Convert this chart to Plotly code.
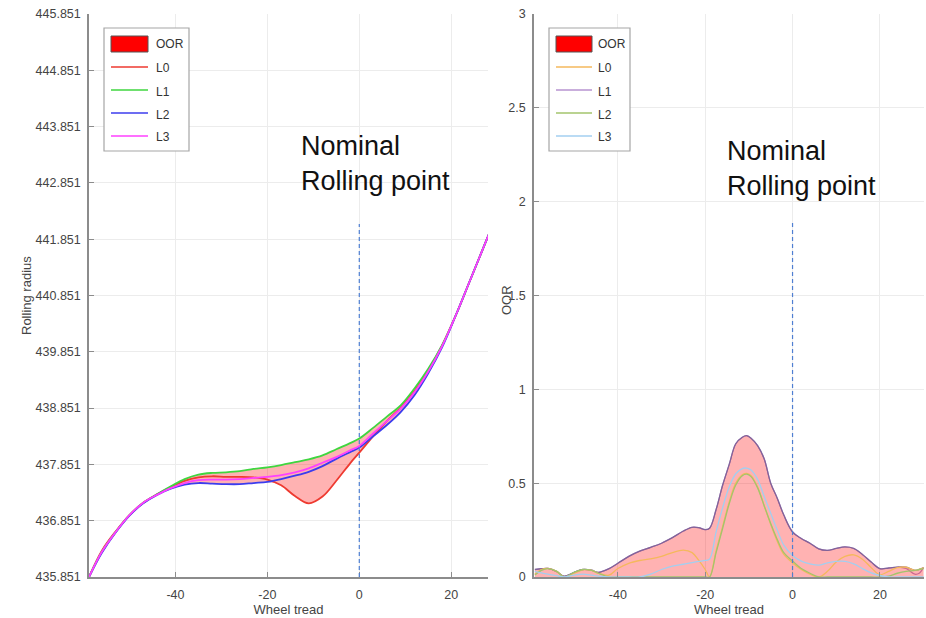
import numpy as np
import plotly.graph_objects as go

W, H = 926, 618
FONT = "Liberation Sans, Arial, sans-serif"

# ---------------- data: left panel (rolling radius) ----------------
tread_left = [-58.8, -56, -53, -50, -47, -44, -41, -38, -35, -32, -29, -26, -23, -20, -17,
              -14, -11, -8, -5, -2, 0, 3, 6, 9, 12, 15, 18, 21, 24, 27, 30]
rr_L0 = [435.851, 436.32, 436.66, 436.95, 437.17, 437.32, 437.45, 437.56, 437.62, 437.64, 437.63,
         437.63, 437.62, 437.58, 437.48, 437.29, 437.16, 437.28, 437.56, 437.87, 438.06, 438.35,
         438.62, 438.86, 439.15, 439.52, 439.96, 440.50, 441.10, 441.70, 442.30]
rr_L1 = [435.851, 436.30, 436.65, 436.95, 437.17, 437.32, 437.46, 437.59, 437.67, 437.70, 437.71,
         437.73, 437.77, 437.80, 437.84, 437.89, 437.94, 438.01, 438.12, 438.23, 438.31, 438.50,
         438.70, 438.90, 439.20, 439.55, 439.97, 440.50, 441.10, 441.70, 442.30]
rr_L2 = [435.851, 436.28, 436.64, 436.94, 437.16, 437.31, 437.42, 437.49, 437.52, 437.51, 437.50,
         437.50, 437.52, 437.54, 437.59, 437.65, 437.72, 437.82, 437.95, 438.07, 438.15, 438.35,
         438.55, 438.78, 439.08, 439.47, 439.93, 440.50, 441.10, 441.70, 442.30]
rr_L3 = [435.851, 436.30, 436.65, 436.95, 437.17, 437.31, 437.43, 437.52, 437.57, 437.58, 437.58,
         437.59, 437.61, 437.63, 437.66, 437.71, 437.78, 437.88, 437.98, 438.10, 438.18, 438.40,
         438.62, 438.84, 439.13, 439.50, 439.95, 440.50, 441.10, 441.70, 442.30]

# ---------------- data: right panel (OOR) ----------------
tread_right = [-59, -57.5, -56, -54, -52.3, -50, -48, -46, -44.5, -42, -40, -37.5, -35, -32.5,
               -30, -27.5, -25, -23, -21.5, -20, -19, -17.5, -16, -14.5, -13, -11.5, -10.5,
               -9.5, -8, -6.5, -5, -3.5, -2, 0, 2, 4, 6, 8, 10, 12, 14, 16, 18, 20, 22, 24,
               26, 28, 29, 30]
oor_L0 = [0.015, 0.04, 0.046, 0.03, 0.0, 0.02, 0.038, 0.035, 0.02, 0.01, 0.045, 0.073, 0.088,
          0.097, 0.11, 0.13, 0.143, 0.13, 0.09, 0.04, 0.0, 0.14, 0.27, 0.40, 0.50, 0.545, 0.552,
          0.54, 0.48, 0.38, 0.28, 0.19, 0.12, 0.075, 0.04, 0.015, 0.0, 0.03, 0.08, 0.11, 0.118,
          0.095, 0.05, 0.012, 0.03, 0.05, 0.052, 0.035, 0.04, 0.05]
oor_L1 = [0.04, 0.044, 0.046, 0.028, 0.004, 0.025, 0.04, 0.036, 0.025, 0.045, 0.073, 0.11,
          0.138, 0.158, 0.18, 0.21, 0.245, 0.265, 0.263, 0.252, 0.26, 0.36, 0.49, 0.60, 0.71,
          0.745, 0.753, 0.74, 0.70, 0.63, 0.50, 0.42, 0.33, 0.24, 0.205, 0.18, 0.15, 0.142,
          0.152, 0.16, 0.152, 0.12, 0.08, 0.045, 0.048, 0.053, 0.045, 0.015, 0.02, 0.05]
oor_L2 = [0.01, 0.035, 0.045, 0.03, 0.0, 0.025, 0.04, 0.035, 0.02, 0.0, 0.0, 0.0, 0.0, 0.0,
          0.0, 0.0, 0.0, 0.0, 0.0, 0.0, 0.0, 0.13, 0.26, 0.39, 0.49, 0.54, 0.548, 0.535, 0.475,
          0.38, 0.285, 0.20, 0.13, 0.085, 0.045, 0.02, 0.0, 0.0, 0.0, 0.0, 0.0, 0.0, 0.0, 0.0,
          0.005, 0.02, 0.03, 0.035, 0.04, 0.045]
oor_L3 = [0.03, 0.022, 0.015, 0.007, 0.0, 0.01, 0.015, 0.01, 0.005, 0.0, 0.0, 0.0, 0.0, 0.015,
          0.04, 0.058, 0.068, 0.077, 0.083, 0.088, 0.095, 0.24, 0.37, 0.48, 0.55, 0.578, 0.58,
          0.57, 0.52, 0.43, 0.34, 0.25, 0.17, 0.115, 0.085, 0.07, 0.063, 0.075, 0.083, 0.083,
          0.07, 0.045, 0.022, 0.008, 0.0, 0.0, 0.0, 0.0, 0.0, 0.0]

x_tickvals = [-40, -20, 0, 20]
x_ticktext = ["-40", "-20", "0", "20"]

nominal_point = 0
nominal_top_left = 442.12
nominal_top_right = 1.89
series_names = ["L0", "L1", "L2", "L3"]

left_colors = ["#ee3a30", "#3fd63f", "#3c3cee", "#ff40ff"]
right_colors = ["#f5b85c", "#b793d0", "#a3c46c", "#a3cff0"]
OOR_FILL = "rgba(255,0,0,0.30)"

fig = go.Figure()

# ---- left panel ----
left_series = [rr_L0, rr_L1, rr_L2, rr_L3]
upper = np.max(np.array(left_series), axis=0)
lower = np.min(np.array(left_series), axis=0)
fig.add_trace(go.Scatter(x=tread_left, y=upper, mode="lines", line=dict(width=0, shape="spline"),
                         xaxis="x", yaxis="y", showlegend=False, hoverinfo="skip"))
fig.add_trace(go.Scatter(x=tread_left, y=lower, mode="lines", line=dict(width=0, shape="spline"),
                         fill="tonexty", fillcolor=OOR_FILL, name="OOR",
                         xaxis="x", yaxis="y", showlegend=False))
for nm, ys, col in zip(series_names, left_series, left_colors):
    fig.add_trace(go.Scatter(x=tread_left, y=ys, mode="lines", name=nm,
                             line=dict(color=col, width=1.8, shape="spline"),
                             xaxis="x", yaxis="y", showlegend=False))

# ---- right panel ----
right_series = [oor_L0, oor_L1, oor_L2, oor_L3]
oor_env = np.max(np.array(right_series), axis=0)
fig.add_trace(go.Scatter(x=tread_right, y=oor_L1, mode="lines", name="L1",
                         line=dict(color=right_colors[1], width=1.2, shape="spline"),
                         xaxis="x2", yaxis="y2", showlegend=False))
fig.add_trace(go.Scatter(x=tread_right, y=oor_env, mode="lines", name="OOR",
                         line=dict(color="#80649a", width=1.3, shape="spline"),
                         fill="tozeroy", fillcolor=OOR_FILL,
                         xaxis="x2", yaxis="y2", showlegend=False))
for idx in (0, 2, 3):
    fig.add_trace(go.Scatter(x=tread_right, y=right_series[idx], mode="lines",
                             name=series_names[idx],
                             line=dict(color=right_colors[idx], width=1.3, shape="spline"),
                             xaxis="x2", yaxis="y2", showlegend=False))


def px(v):
    return v / W


def py(v):
    return 1 - v / H


tickfont = dict(family=FONT, size=12.5, color="#444444")
common_axis = dict(showline=True, linecolor="#8c8c8c", linewidth=1.5, ticks="inside",
                   ticklen=5, tickcolor="#8c8c8c", showgrid=True, gridcolor="#ececec",
                   gridwidth=1, zeroline=False, tickfont=tickfont, automargin=False)
xtitle = dict(text="Wheel tread", font=dict(family=FONT, size=13, color="#444444"), standoff=3)

fig.update_layout(
    width=W, height=H, margin=dict(l=0, r=0, t=0, b=0, autoexpand=False),
    paper_bgcolor="white", plot_bgcolor="white", showlegend=False,
    xaxis=dict(domain=[px(89), px(488)], range=[-58.8, 28.0], anchor="y",
               tickmode="array", tickvals=x_tickvals, ticktext=x_ticktext,
               ticklabelstandoff=5, title=xtitle, **common_axis),
    yaxis=dict(domain=[py(577), py(14)], range=[435.851, 445.851], anchor="x",
               tick0=435.851, dtick=1, tickformat=".3f", ticklabelstandoff=4, **common_axis),
    xaxis2=dict(domain=[px(534), px(924)], range=[-59.2, 30.1], anchor="y2",
                tickmode="array", tickvals=x_tickvals, ticktext=x_ticktext,
                ticklabelstandoff=5, title=xtitle, **common_axis),
    yaxis2=dict(domain=[py(577), py(14)], range=[0, 3], anchor="x2", tick0=0, dtick=0.5,
                ticklabelstandoff=4, **common_axis),
)

shapes = []
annotations = []

# nominal rolling point dashed lines
shapes.append(dict(type="line", xref="x", yref="y", x0=nominal_point, x1=nominal_point,
                   y0=435.851, y1=nominal_top_left, layer="above",
                   line=dict(color="#4f7fd2", width=1.2, dash="4px,3px")))
shapes.append(dict(type="line", xref="x2", yref="y2", x0=nominal_point, x1=nominal_point,
                   y0=0, y1=nominal_top_right, layer="above",
                   line=dict(color="#4f7fd2", width=1.2, dash="4px,3px")))

annotations.append(dict(text="Nominal<br>Rolling point", xref="paper", yref="paper",
                        x=px(299), y=py(129), xanchor="left", yanchor="top", align="left",
                        showarrow=False, font=dict(family=FONT, size=27, color="#111111")))
annotations.append(dict(text="Nominal<br>Rolling point", xref="paper", yref="paper",
                        x=px(725), y=py(134), xanchor="left", yanchor="top", align="left",
                        showarrow=False, font=dict(family=FONT, size=27, color="#111111")))

# y axis titles
annotations.append(dict(text="Rolling radius", xref="paper", yref="paper", x=px(26), y=py(296),
                        xanchor="center", yanchor="middle", textangle=-90, showarrow=False,
                        font=dict(family=FONT, size=13, color="#444444")))
annotations.append(dict(text="OOR", xref="paper", yref="paper", x=px(506), y=py(300),
                        xanchor="center", yanchor="middle", textangle=-90, showarrow=False,
                        font=dict(family=FONT, size=13, color="#444444")))


# manual legends
def legend(x0, x1, sw0, sw1, txt_x, colors):
    shapes.append(dict(type="rect", xref="paper", yref="paper", x0=px(x0), x1=px(x1),
                       y0=py(151), y1=py(28), fillcolor="white", layer="above",
                       line=dict(color="#a6a6a6", width=1.2)))
    shapes.append(dict(type="rect", xref="paper", yref="paper", x0=px(sw0), x1=px(sw1),
                       y0=py(52), y1=py(36), fillcolor="#ff0000", layer="above",
                       line=dict(color="#555555", width=1)))
    annotations.append(dict(text="OOR", xref="paper", yref="paper", x=px(txt_x), y=py(44),
                            xanchor="left", yanchor="middle", showarrow=False,
                            font=dict(family=FONT, size=12, color="#333333")))
    for k, (nm, col) in enumerate(zip(series_names, colors)):
        yy = 67 + k * 23
        shapes.append(dict(type="line", xref="paper", yref="paper", x0=px(sw0), x1=px(sw1),
                           y0=py(yy), y1=py(yy), layer="above",
                           line=dict(color=col, width=1.6)))
        annotations.append(dict(text=nm, xref="paper", yref="paper", x=px(txt_x), y=py(yy + 1.5),
                                xanchor="left", yanchor="middle", showarrow=False,
                                font=dict(family=FONT, size=12, color="#333333")))


legend(104, 189, 111, 148, 154, left_colors)
legend(549, 630, 556, 592, 596, right_colors)

fig.update_layout(shapes=shapes, annotations=annotations)

fig.write_html("out.html", config={"displayModeBar": False},
               post_script="document.body.style.margin='0';document.body.style.overflow='hidden';")
